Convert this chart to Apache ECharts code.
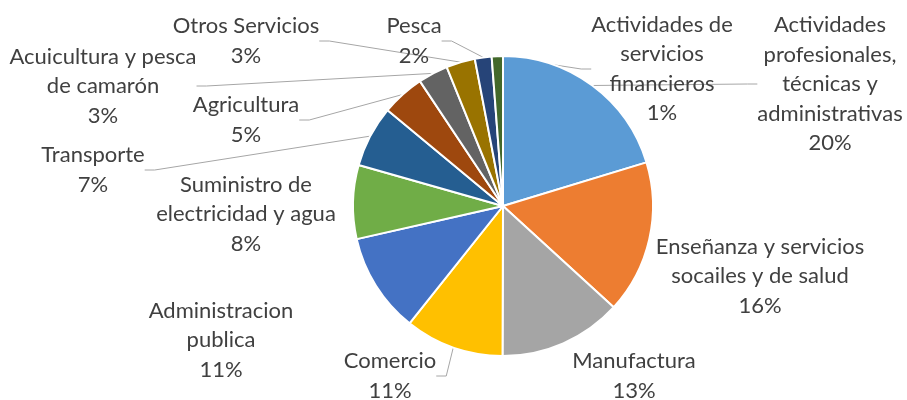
<!DOCTYPE html>
<html>
<head>
<meta charset="utf-8">
<script src="https://cdn.jsdelivr.net/npm/echarts@6/dist/echarts.min.js"></script>
<style>
  html, body { margin: 0; padding: 0; background: #fff; }
  #chart { width: 907px; height: 400px; }
</style>
</head>
<body>
<div id="chart"></div>
<script>
// sectores, en orden horario desde las 12
var categories = [
  'Actividades\nprofesionales,\ntécnicas y\nadministrativas',
  'Enseñanza y servicios\nsocailes y de salud',
  'Manufactura',
  'Comercio',
  'Administracion\npublica',
  'Suministro de\nelectricidad y agua',
  'Transporte',
  'Agricultura',
  'Acuicultura y pesca\nde camarón',
  'Otros Servicios',
  'Pesca',
  'Actividades de\nservicios\nfinancieros'
];
var values = [20.2, 16.4, 13.2, 10.6, 10.7, 7.9, 6.6, 4.6, 3.2, 3.1, 1.8, 1.2];
var colors = ['#5B9BD5', '#ED7D31', '#A5A5A5', '#FFC000', '#4472C4', '#70AD47',
              '#255E91', '#9E480E', '#636363', '#997300', '#264478', '#43682B'];

// donde van las etiquetas (centro del bloque) y si llevan linea guia
var labelPos = [[830, 84], [760, 276], [634, 376], [390, 376], [221, 340], [246, 214],
                [93, 170], [246, 120], [103, 86], [246, 41], [414, 41], [662, 69]];
var hasLine = [true, false, false, true, false, false, true, true, true, true, true, true];

var chart = echarts.init(document.getElementById('chart'));

var data = categories.map(function (c, i) {
  return {
    name: c,
    value: values[i],
    itemStyle: { color: colors[i] },
    labelLine: { show: hasLine[i] }
  };
});

chart.setOption({
  animation: false,
  series: [{
    type: 'pie',
    center: [503, 206],
    radius: 150,
    startAngle: 90,
    clockwise: true,
    data: data,
    itemStyle: { borderColor: '#fff', borderWidth: 2 },
    label: {
      show: true,
      position: 'outside',
      fontFamily: 'Lato',
      fontSize: 22,
      lineHeight: 29.5,
      color: '#404040',
      align: 'center',
      formatter: function (p) {
        return p.name + '\n' + Math.round(p.percent) + '%';
      }
    },
    labelLine: {
      lineStyle: { color: '#A6A6A6', width: 1 },
      length: 10,
      length2: 10
    },
    labelLayout: function (p) {
      var pos = labelPos[p.dataIndex];
      return { x: pos[0], y: pos[1], align: 'center', verticalAlign: 'middle', moveOverlap: false };
    }
  }]
});
</script>
</body>
</html>
